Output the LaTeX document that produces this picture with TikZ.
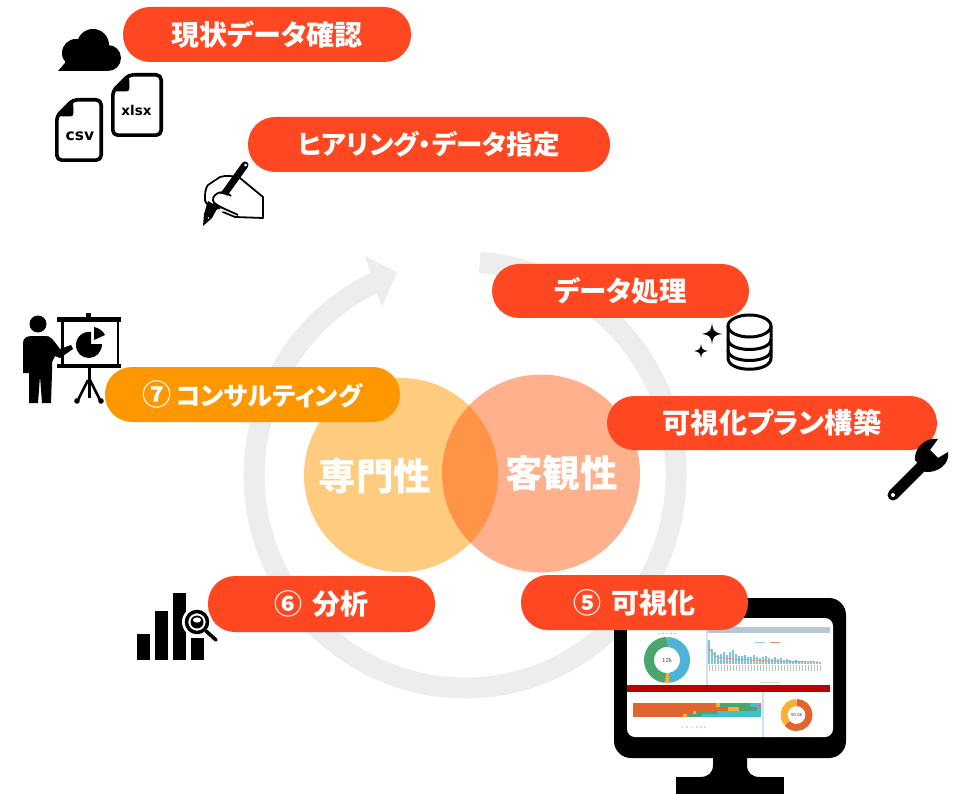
\documentclass[tikz,border=0pt]{standalone}
\usepackage{fontspec}
\newfontfamily\jp[RawFeature={+palt}]{Noto Sans CJK JP}
\newfontfamily\djsans{DejaVu Sans}
\setsansfont{Liberation Sans}
\definecolor{pillred}{HTML}{FF4722}
\definecolor{pillor}{HTML}{FF9800}
\definecolor{vennr}{HTML}{FF5000}
\definecolor{ringg}{HTML}{EDEDED}
\definecolor{dblue}{HTML}{4FB3D9}
\definecolor{dgreen}{HTML}{4CA56F}
\definecolor{dyel}{HTML}{FBB034}
\definecolor{dora}{HTML}{E0652E}
\definecolor{dteal}{HTML}{3EC1C9}
\definecolor{dpink}{HTML}{E86AA6}
\definecolor{dhead}{HTML}{B5C7D6}
\definecolor{dsep}{HTML}{CFE2F0}
\tikzset{
  pill/.style={rectangle,rounded corners=27pt,fill=pillred,text=white,inner sep=0pt},
  venntext/.style={text=white,inner sep=0pt,font=\jp\bfseries\fontsize{37.5}{37.5}\selectfont},
  tinytext/.style={inner sep=0pt,text=black!70,font=\sffamily\fontsize{6}{6}\selectfont}
}
\newcommand{\pf}[1]{\jp\bfseries\fontsize{#1}{#1}\selectfont}
\begin{document}
\begin{tikzpicture}[x=1pt,y=-1pt]
\useasboundingbox (0,0) rectangle (961,794);
% ring
\draw[ringg,line width=21pt] (465,474) ++(-86:212) arc[start angle=-86,end angle=244.5,x radius=211,y radius=213];
\fill[ringg] (397,272) -- (365,256) -- (370,272) -- (376,292) -- (382,307) -- cycle;
% venn
\fill[pillor,opacity=.5] (401,475) circle[radius=97];
\fill[vennr,opacity=.45] (541,473.5) circle[radius=99];
\node[venntext] (sen) at (375,476) {専門性};
\node[venntext] (kyaku) at (561.5,473) {客観性};
% monitor
\fill[black,rounded corners=17pt] (614,598) rectangle (846,758);
\fill[black] (676,777) rectangle (784,794);
\fill[black] (713,755) -- (747,755) -- (747,765) .. controls (747,773) and (752,777) .. (760,777) -- (700,777) .. controls (708,777) and (713,773) .. (713,765) -- cycle;
\fill[white,rounded corners=8pt] (627,618) rectangle (833,737);
\fill[dhead] (707,627) rectangle (830,633);
\fill[dsep] (706,627) rectangle (707.5,685);
\fill[dsep] (762,692) rectangle (763.5,737);
\fill[red!75!black] (627,685) rectangle (830,692);
% donut 1
\draw[dblue,line width=10pt] (667,660) ++(-90:18) arc[start angle=-90,end angle=85,radius=18];
\draw[dyel,line width=10pt] (667,660) ++(85:18) arc[start angle=85,end angle=95,radius=18];
\draw[dgreen,line width=10pt] (667,660) ++(95:18) arc[start angle=95,end angle=270,radius=18];
\node[tinytext] (d1) at (667,660) {12k};
\foreach \xx/\cc in {659/dblue,663/dgreen,667/dyel,671/dora,675/dteal}{\fill[\cc!60] (\xx,633.5) circle[radius=.9];}
% bar chart
\foreach \xx/\hh in {708/24,711/15,714/12,717/9,720/10,723/12,726/9,729/12,732/14,735/10,738/8,741/8,744/9,747/7,750/7,753/9,756/7,759/6,762/7,765/8,768/6,771/5,774/7,777/5,780/6,783/4,786/5,789/4,792/3,795/4,798/3,801/3,804/3,807/2,810/3,813/2,816/2,819/2}{
  \fill[dblue!75] (\xx,664-\hh) rectangle (\xx+2.4,664);
  \fill[black!25] (\xx+.5,665) rectangle (\xx+1.4,671);
}
\draw[dora!70,line width=.8pt] (708,645) -- (711,651) -- (714,655) -- (717,657) -- (723,658) -- (735,659) -- (770,661) -- (819,662);
\fill[dblue!70] (755,641.5) rectangle (765,642.5);
\fill[dora!70] (770,641.5) rectangle (780,642.5);
\fill[black!15] (760,682) rectangle (780,683);
% stacked bars
\foreach \ya/\yb/\a/\b/\c/\d/\e in {703.3/707.3/716/720/750/758/761,707.3/710.7/728/739/757/761/761,710.7/714/693/696/717/761/761,714/717.3/683/687/702/761/761}{
  \fill[dora] (633,\ya) rectangle (\a,\yb);
  \fill[dyel] (\a,\ya) rectangle (\b,\yb);
  \fill[dgreen] (\b,\ya) rectangle (\c,\yb);
  \fill[dteal] (\c,\ya) rectangle (\d,\yb);
  \fill[dpink] (\d,\ya) rectangle (\e,\yb);
}
\foreach \xx/\cc in {682/dteal,687/dora,692/dyel,697/dgreen,701/dteal,705/dpink}{\fill[\cc!60] (\xx,727) circle[radius=.9];}
% donut 2
\draw[dora,line width=7pt] (796.5,715) ++(-90:12.5) arc[start angle=-90,end angle=140,radius=12.5];
\draw[dyel,line width=7pt] (796.5,715) ++(140:12.5) arc[start angle=140,end angle=270,radius=12.5];
\node[tinytext,font=\sffamily\fontsize{4.5}{4.5}\selectfont] (d2) at (796.5,715) {90.5k};
% pills
\node[pill,minimum width=288pt,minimum height=55pt,font=\pf{28}] (p1) at (267,34.5) {現状データ確認};
\node[pill,minimum width=362pt,minimum height=55pt,font=\pf{26.5}] (p2) at (429,144.5) {ヒアリング・データ指定};
\node[pill,minimum width=257pt,minimum height=54pt,font=\pf{27.5}] (p3) at (620.5,291) {データ処理};
\node[pill,minimum width=330pt,minimum height=54pt,font=\pf{28.2}] (p4) at (772,423) {可視化プラン構築};
\node[pill,minimum width=227pt,minimum height=55pt,font=\pf{28}] (p5) at (634.5,602.5) {⑤\hspace{3pt} 可視化};
\node[pill,minimum width=227pt,minimum height=56pt,font=\pf{28}] (p6) at (321.5,604) {⑥\hspace{3pt} 分析};
\node[pill,fill=pillor,minimum width=295pt,minimum height=55pt,font=\pf{25.3}] (p7) at (252.5,394.5) {{\fontsize{29}{29}\selectfont ⑦}\hspace{4pt}コンサルティング};
% cloud
\fill[black] (93,45) circle[radius=16] (76,53) circle[radius=14] (108,58) circle[radius=13];
\fill[black] (58,71) -- (65,63) -- (65,55) -- (108,50) -- (108,71) -- cycle;
% files
\foreach \dx/\dy/\ww/\hh in {111/73/52/64,55/98/48/64}{
  \begin{scope}[shift={(\dx,\dy)}]
    \draw[black,line width=3.6pt,line join=round,rounded corners=5pt] (1.8,18) -- (18,1.8) -- (\ww-1.8,1.8) -- (\ww-1.8,\hh-1.8) -- (1.8,\hh-1.8) -- cycle;
    \fill[black] (.5,18.5) -- (18,1) -- (18.5,15) .. controls (18.5,17.5) and (17,18.5) .. (15,18.5) -- cycle;
  \end{scope}
}
\node[inner sep=0pt,font=\djsans\bfseries\fontsize{13.5}{13.5}\selectfont] (xl) at (136.5,110) {xlsx};
\node[inner sep=0pt,font=\djsans\bfseries\fontsize{15.5}{15.5}\selectfont] (cs) at (80,136) {csv};
% hand
\draw[black,line width=1.8pt,fill=white,line join=round] (220,177) .. controls (226,175) and (234,176) .. (240,178) -- (263,197) -- (263,218) -- (235,217) -- (223,212) .. controls (220,209) and (218,207) .. (216,206) .. controls (212,206) and (209,206) .. (208,205) .. controls (205,202) and (204,199) .. (205,196) .. controls (205,190) and (207,186) .. (208,185) -- cycle;
\draw[black,line width=7pt,line cap=round] (245,165) -- (215,207);
\fill[black] (218,207) -- (208,201) -- (204,214) -- (203,226) -- (212,218) -- cycle;
\fill[white] (245.5,165) circle[radius=1.5];
\fill[white] (208.5,218) circle[radius=.9];
\fill[white] (222,210) ellipse[x radius=3,y radius=1.8];
\fill[white] (215,197) .. controls (219,193) and (224,193) .. (229,197) -- (238,204) -- (240,214) .. controls (232,213) and (222,208) .. (217,204) .. controls (214,202) and (213,199) .. (215,197) -- cycle;
\draw[black,line width=1.8pt] (231,196) .. controls (226,191) and (219,191) .. (215,195) .. controls (212,198) and (212,203) .. (217,205) .. controls (224,209) and (232,212) .. (238,215);
% database
\draw[black,line width=3pt] (749.5,326) ellipse[x radius=21.5,y radius=11];
\draw[black,line width=3pt] (728,326) -- (728,358) .. controls (728,373) and (771,373) .. (771,358) -- (771,326);
\draw[black,line width=3pt] (728,339) .. controls (728,353) and (771,353) .. (771,339);
\draw[black,line width=3pt] (728,350) .. controls (728,364) and (771,364) .. (771,350);
% sparkles
\fill[black] (712,323) .. controls (713,331) and (714,332) .. (722,334) .. controls (714,335) and (713,337) .. (712,344) .. controls (711,337) and (710,335) .. (702,334) .. controls (710,332) and (711,331) .. (712,323) -- cycle;
\fill[black] (701,344) .. controls (701.7,349) and (702.5,350) .. (708,351) .. controls (702.5,352) and (701.7,353) .. (701,358) .. controls (700.3,353) and (699.5,352) .. (694,351) .. controls (699.5,350) and (700.3,349) .. (701,344) -- cycle;
% wrench
\draw[black,line width=11pt,line cap=round] (893,495) -- (926,462);
\fill[black] (938,439) .. controls (925,437) and (914,448) .. (915,460) -- (925,472) .. controls (938,473) and (950,464) .. (948,452) -- (938,458) -- (930,450) -- cycle;
\fill[white] (893,495) circle[radius=2];
% bar chart icon
\fill[black] (137,634) rectangle (150,660);
\fill[black] (155,611) rectangle (168,660);
\fill[black] (173,593) rectangle (186,660);
\fill[black] (191,638) rectangle (204,660);
\fill[white] (197,622) circle[radius=15];
\draw[white,line width=7pt,line cap=round] (208,632) -- (216,640);
\draw[black,line width=3.6pt,line cap=round] (206,631) -- (216,640);
\draw[black,line width=3.5pt] (197,622) circle[radius=10.5];
\fill[black] (197,622) circle[radius=6.5];
\fill[white] (197,620) ellipse[x radius=4,y radius=2.6];
% presenter
\fill[black] (38,324) circle[radius=8.5];
\fill[black] (23,373) -- (23,343) .. controls (23,338) and (27,336) .. (32,336) -- (46,336) .. controls (50,336) and (52,338) .. (60,349) -- (71,345) -- (73,349) -- (60,358) -- (55,356) -- (52,362) -- (52,373) -- (51,403) -- (42,403) -- (40,376) -- (38,403) -- (29,403) -- (29,373) -- cycle;
\fill[black] (57,317) rectangle (121,322);
\fill[black] (57,364) rectangle (121,368);
\fill[black] (86,313) rectangle (91,317);
\fill[black] (61,322) rectangle (63.5,364);
\fill[black] (116.5,322) rectangle (119,364);
\fill[black] (91,332) .. controls (83,331) and (76,337) .. (76,345) .. controls (76,353) and (82,358) .. (89,358) .. controls (96,358) and (102,352) .. (102,344) -- (91,344) -- cycle;
\fill[black] (94,327) .. controls (99,328) and (103,331) .. (105,335) -- (94,340) -- cycle;
\draw[black,line width=3pt] (89,368) -- (89,398);
\draw[black,line width=2.6pt] (88,380) -- (78,400);
\draw[black,line width=2.6pt] (90,380) -- (100,400);
\fill[black] (77,401) circle[radius=2.8] (101,401) circle[radius=2.8];
\end{tikzpicture}
\end{document}
